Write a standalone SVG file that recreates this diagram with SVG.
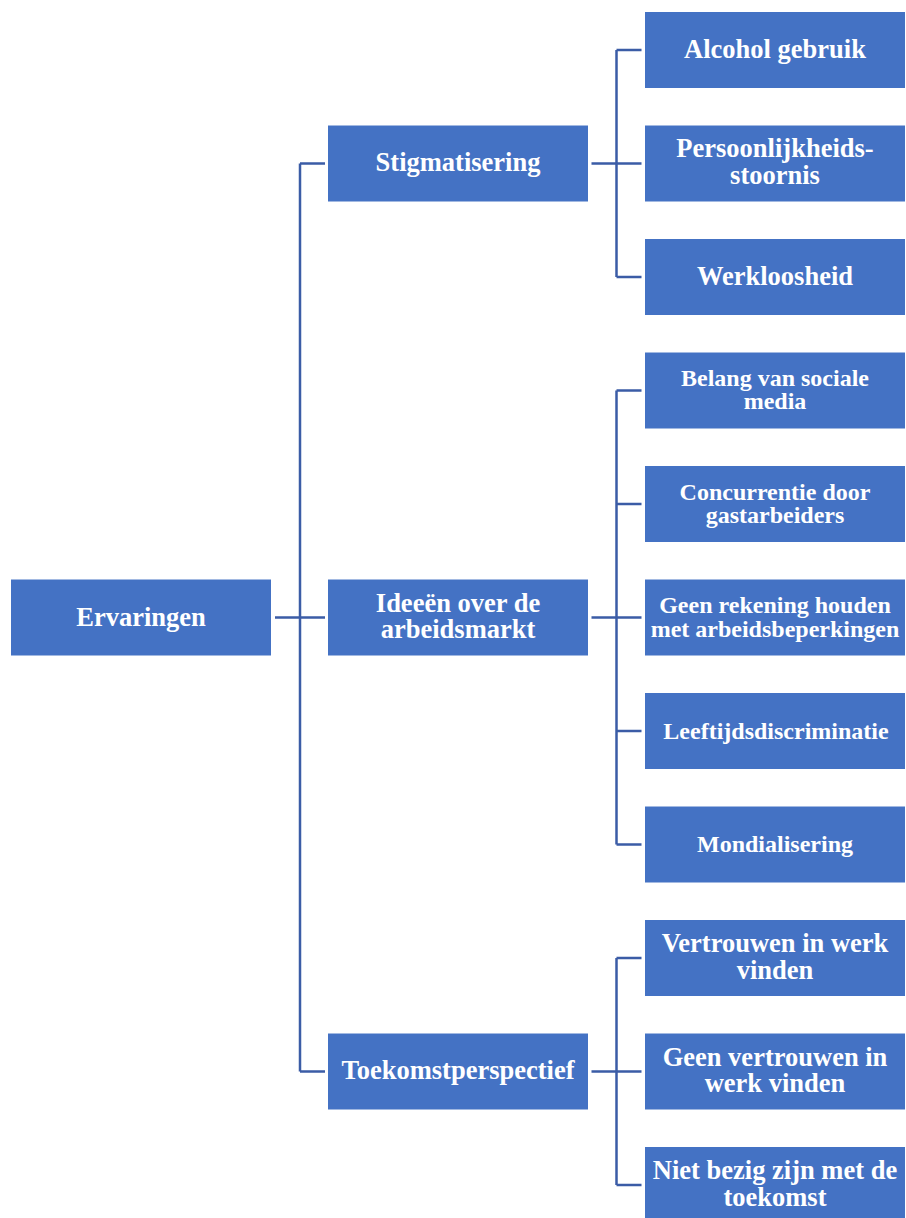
<svg xmlns="http://www.w3.org/2000/svg" width="906" height="1218" viewBox="0 0 906 1218">
<style>
.box{fill:#4472C4;stroke:#FFFFFF;stroke-width:1}
.t{fill:#FFFFFF;font-family:"Liberation Serif","Times New Roman",serif;font-weight:bold;font-size:26.5px;text-anchor:middle}
.s{font-size:24px}
.c{fill:none;stroke:#3B5CA6;stroke-width:2.5}
</style>
<rect width="906" height="1218" fill="#FFFFFF"/>
<g id="connectors">
<path class="c" d="M275,617.5H325M300,163.5V1071.5M300,163.5H325M300,1071.5H325"/>
<path class="c" d="M591.5,163.5H641.5M616.5,50V277M616.5,50H641.5M616.5,277H641.5"/>
<path class="c" d="M591.5,617.5H641.5M616.5,390.5V844.5M616.5,390.5H641.5M616.5,504H641.5M616.5,731H641.5M616.5,844.5H641.5"/>
<path class="c" d="M591.5,1071.5H641.5M616.5,958V1185M616.5,958H641.5M616.5,1185H641.5"/>
</g>
<g id="n-ervaringen"><rect class="box" x="10.5" y="579" width="261" height="77"/><text class="t" x="141" y="625.5">Ervaringen</text></g>
<g id="n-stigmatisering"><rect class="box" x="327.5" y="125" width="261" height="77"/><text class="t" x="458" y="171">Stigmatisering</text></g>
<g id="n-ideeen"><rect class="box" x="327.5" y="579" width="261" height="77"/><text class="t" x="458" y="611.5">Ideeën over de<tspan x="458" dy="26.5">arbeidsmarkt</tspan></text></g>
<g id="n-toekomst"><rect class="box" x="327.5" y="1033" width="261" height="77"/><text class="t" x="458" y="1079">Toekomstperspectief</text></g>
<g id="n-alcohol"><rect class="box" x="644.5" y="11.5" width="261" height="77"/><text class="t" x="775" y="58">Alcohol gebruik</text></g>
<g id="n-persoonlijkheid"><rect class="box" x="644.5" y="125" width="261" height="77"/><text class="t" x="775" y="157">Persoonlijkheids-<tspan x="775" dy="27">stoornis</tspan></text></g>
<g id="n-werkloosheid"><rect class="box" x="644.5" y="238.5" width="261" height="77"/><text class="t" x="775" y="285">Werkloosheid</text></g>
<g id="n-belang"><rect class="box" x="644.5" y="352" width="261" height="77"/><text class="t s" x="775" y="385.5">Belang van sociale<tspan x="775" dy="23.5">media</tspan></text></g>
<g id="n-concurrentie"><rect class="box" x="644.5" y="465.5" width="261" height="77"/><text class="t s" x="775" y="499.5">Concurrentie door<tspan x="775" dy="23.5">gastarbeiders</tspan></text></g>
<g id="n-geenrekening"><rect class="box" x="644.5" y="579" width="261" height="77"/><text class="t s" x="775" y="613">Geen rekening houden<tspan x="775" dy="23.5">met arbeidsbeperkingen</tspan></text></g>
<g id="n-leeftijd"><rect class="box" x="644.5" y="692.5" width="261" height="77"/><text class="t s" x="776" y="738.5">Leeftijdsdiscriminatie</text></g>
<g id="n-mondialisering"><rect class="box" x="644.5" y="806" width="261" height="77"/><text class="t s" x="775" y="852">Mondialisering</text></g>
<g id="n-vertrouwen"><rect class="box" x="644.5" y="919.5" width="261" height="77"/><text class="t" x="775" y="952">Vertrouwen in werk<tspan x="775" dy="26.5">vinden</tspan></text></g>
<g id="n-geenvertrouwen"><rect class="box" x="644.5" y="1033" width="261" height="77"/><text class="t" x="775" y="1065.5">Geen vertrouwen in<tspan x="775" dy="26.5">werk vinden</tspan></text></g>
<g id="n-nietbezig"><rect class="box" x="644.5" y="1146.5" width="261" height="77"/><text class="t" x="775" y="1179">Niet bezig zijn met de<tspan x="775" dy="26.5">toekomst</tspan></text></g>
</svg>
